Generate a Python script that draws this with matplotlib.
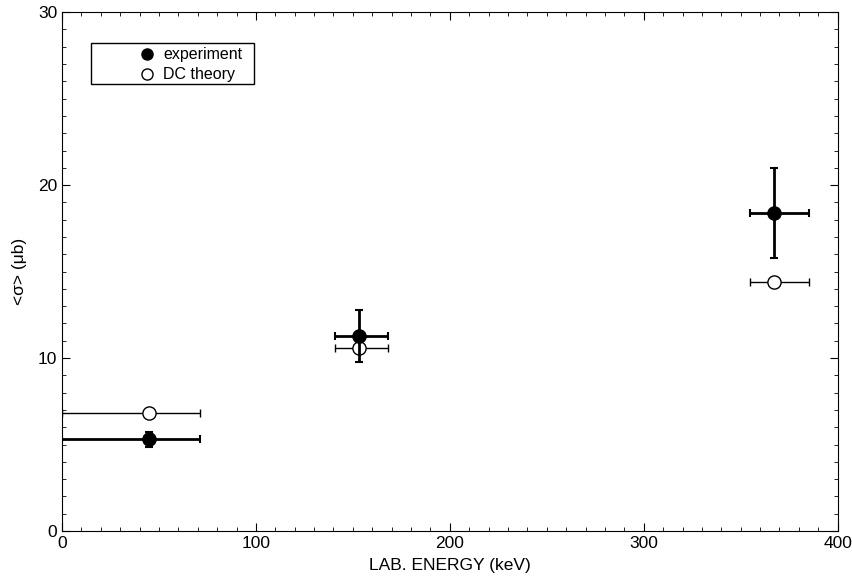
import matplotlib.pyplot as plt
from matplotlib.lines import Line2D
from matplotlib.patches import Rectangle
from matplotlib.ticker import MultipleLocator

plt.rcParams['font.family'] = ['Liberation Sans', 'DejaVu Sans']

# experiment
exp_energy = [45, 153, 367]
exp_sigma = [5.3, 11.3, 18.4]
exp_xerr_lo = [45, 12, 12]
exp_xerr_hi = [26, 15, 18]
exp_yerr_lo = [0.45, 1.5, 2.6]
exp_yerr_hi = [0.45, 1.5, 2.6]

# DC theory (same energy bins)
dc_energy = [45, 153, 367]
dc_sigma = [6.8, 10.6, 14.4]

fig = plt.figure(figsize=(8.53, 5.79), dpi=100)
ax = fig.add_axes([0.0727, 0.0829, 0.9093, 0.8961])

ax.errorbar(dc_energy, dc_sigma, xerr=[exp_xerr_lo, exp_xerr_hi],
            fmt='o', mfc='white', mec='black', color='black', ms=9.5,
            elinewidth=1, capsize=3, capthick=1, mew=1, zorder=2)
ax.errorbar(exp_energy, exp_sigma, xerr=[exp_xerr_lo, exp_xerr_hi],
            yerr=[exp_yerr_lo, exp_yerr_hi],
            fmt='o', mfc='black', mec='black', color='black', ms=9.5,
            elinewidth=2, capsize=3, capthick=1.5, zorder=3)

ax.set_xlim(0, 400)
ax.set_ylim(0, 30)
ax.xaxis.set_major_locator(MultipleLocator(100))
ax.xaxis.set_minor_locator(MultipleLocator(10))
ax.yaxis.set_major_locator(MultipleLocator(10))
ax.yaxis.set_minor_locator(MultipleLocator(1))
ax.tick_params(which='both', direction='in', top=True, right=True, labelsize=12.5)
ax.tick_params(which='major', length=6)
ax.tick_params(which='minor', length=3)

ax.set_xlabel('LAB. ENERGY (keV)', fontsize=12.5, labelpad=5)
ax.set_ylabel('<σ> (μb)', fontsize=12.5, labelpad=8)

# legend: markers only, inside a plain box
handles = [
    Line2D([], [], ls='none', marker='o', ms=8, mfc='black', mec='black'),
    Line2D([], [], ls='none', marker='o', ms=8, mfc='white', mec='black'),
]
ax.legend(handles, ['experiment', 'DC theory'], loc='upper left',
          bbox_to_anchor=(0.0992, 0.932), fontsize=11.5, frameon=False,
          handlelength=1, handletextpad=0.5, borderpad=0, borderaxespad=0,
          labelspacing=0.3)
ax.add_patch(Rectangle((0.0374, 0.861), 0.21, 0.079, transform=ax.transAxes,
                       fill=False, ec='black', lw=1, zorder=4))

fig.savefig('out.png', dpi=100)
